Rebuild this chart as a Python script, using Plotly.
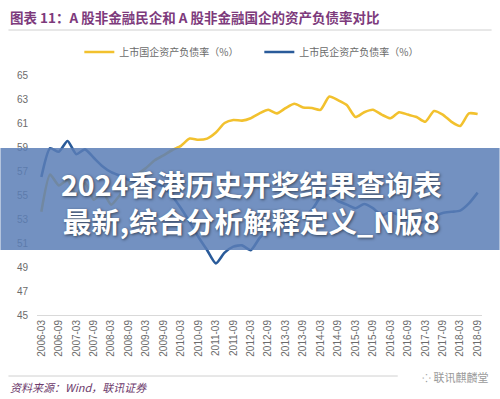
import plotly.graph_objects as go

years = list(range(2006, 2019))
months = ["03", "06", "09", "12"]
quarters = [f"{y}-{m}" for y in years for m in months][:51]  # 2006-03 .. 2018-09

tick_labels = ["2006-03", "2006-09", "2007-03", "2007-09", "2008-03", "2008-09",
               "2009-03", "2009-09", "2010-03", "2010-09", "2011-03", "2011-09",
               "2012-03", "2012-09", "2013-03", "2013-09", "2014-03", "2014-09",
               "2015-03", "2015-09", "2016-03", "2016-09", "2017-03", "2017-09",
               "2018-03", "2018-09"]

soe_ratio = [53.6, 56.7, 55.8, 56.25, 55.0, 56.0, 54.6, 55.25, 54.2, 55.0,
             55.8, 56.7, 57.25, 57.9, 58.3, 58.75, 59.1, 59.7, 59.6, 59.7,
             60.2, 61.0, 61.25, 61.2, 61.4, 61.8, 62.1, 61.8, 62.25, 62.6,
             62.3, 62.25, 62.1, 63.2, 62.9, 62.5, 61.5, 61.9, 62.1, 61.7,
             61.4, 61.9, 61.7, 61.5, 61.1, 62.0, 61.7, 61.1, 60.75, 61.8, 61.75]

private_ratio = [56.5, 58.9, 58.6, 59.5, 58.4, 58.8, 58.1, 57.4, 56.9, 56.6,
                 56.25, 56.1, 56.0, 55.9, 55.7, 54.9, 53.9, 52.75, 51.5, 50.4,
                 49.3, 50.2, 50.7, 50.8, 50.4, 51.4, 52.1, 52.3, 52.75, 52.9,
                 53.2, 53.75, 54.8, 55.0, 54.5, 54.2, 53.9, 54.25, 53.9, 53.3,
                 53.6, 53.3, 52.9, 52.7, 52.8, 53.2, 53.5, 53.6, 53.7, 54.3, 55.2]

y_ticks = [45, 47, 49, 51, 53, 55, 57, 59, 61, 63, 65]

W, H = 500, 399
L, R, T, B = 36.6, 17.6, 75, 84
pw, ph = W - L - R, H - T - B

def px(x):
    return (x - L) / pw

def py(y):
    return (H - B - y) / ph

fig = go.Figure()
fig.add_trace(go.Scatter(x=quarters, y=soe_ratio, mode="lines",
                         name="上市国企资产负债率（%）",
                         line=dict(color="#f2c12e", width=2.6, shape="spline", smoothing=0.6)))
fig.add_trace(go.Scatter(x=quarters, y=private_ratio, mode="lines",
                         name="上市民企资产负债率（%）",
                         line=dict(color="#2a5b9a", width=2.6, shape="spline", smoothing=0.6)))

grey = "#6b6b6b"
fig.update_layout(
    width=W, height=H,
    margin=dict(l=L, r=R, t=T, b=B),
    paper_bgcolor="white", plot_bgcolor="white",
    font=dict(family="Noto Sans CJK SC", color=grey, size=10),
    showlegend=True,
    legend=dict(orientation="h", x=px(79), y=py(52), xanchor="left", yanchor="middle",
                font=dict(size=10, color=grey), itemwidth=30,
                entrywidth=135, entrywidthmode="pixels", bgcolor="rgba(0,0,0,0)"),
    xaxis=dict(type="category", categoryorder="array", categoryarray=quarters,
               range=[-0.5, 50.5], tickmode="array", tickvals=tick_labels, ticktext=tick_labels,
               tickangle=-90, tickfont=dict(size=10, color=grey, family="Liberation Sans"),
               showgrid=False, showline=True, linecolor="#d9d9d9", linewidth=1,
               ticks="", zeroline=False),
    yaxis=dict(range=[45, 65], tickvals=y_ticks, showgrid=False, showline=False,
               zeroline=False, ticks="", ticklabelstandoff=8,
               tickfont=dict(size=10, color=grey, family="Liberation Sans")),
)

shapes = [
    dict(type="line", xref="paper", yref="paper", x0=px(8), x1=px(492), y0=py(30), y1=py(30),
         line=dict(color="#d0d0d0", width=1)),
    dict(type="line", xref="paper", yref="paper", x0=px(8), x1=px(398), y0=py(376), y1=py(376),
         line=dict(color="#d0d0d0", width=1)),
    dict(type="rect", xref="paper", yref="paper", x0=px(0), x1=px(500), y0=py(250), y1=py(148),
         fillcolor="rgb(90,126,182)", opacity=0.85, line=dict(width=0), layer="above"),
]
fig.update_layout(shapes=shapes)

ann = [
    dict(text="<b>图表 11：A 股非金融民企和 A 股非金融国企的资产负债率对比</b>",
         x=px(8), y=py(17), xanchor="left", yanchor="middle",
         font=dict(size=13.5, color="#7d3a7c", family="Noto Sans CJK SC")),
    dict(text="<i>资料来源：Wind，联讯证券</i>", x=px(8), y=py(387), xanchor="left", yanchor="middle",
         font=dict(size=11, color="#6d3a6c", family="Noto Sans CJK SC")),
    dict(text="⁘ 联讯麒麟堂", x=px(490), y=py(377), xanchor="right", yanchor="middle",
         font=dict(size=11, color="#9a9a9a", family="Noto Sans CJK SC")),
    dict(text="<b>2024香港历史开奖结果查询表</b><br><b>最新,综合分析解释定义_N版8</b>",
         x=px(251), y=py(201.5), xanchor="center", yanchor="middle", align="center",
         font=dict(size=28.5, color="white", family="Noto Sans CJK SC",
                   shadow="1px 1px 3px rgba(0,0,0,0.55)")),
]
for a in ann:
    a.update(xref="paper", yref="paper", showarrow=False)
fig.update_layout(annotations=ann)

fig.write_html("out.html", config={"displayModeBar": False},
               post_script="document.body.style.margin='0';")
